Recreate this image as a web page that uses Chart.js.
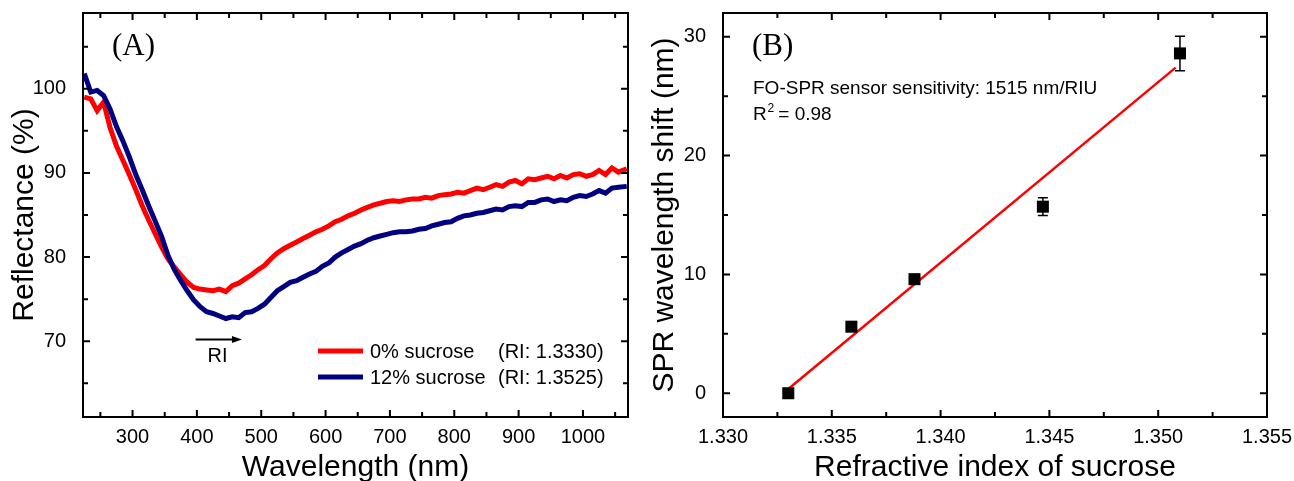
<!DOCTYPE html>
<html>
<head>
<meta charset="utf-8">
<script src="https://cdn.jsdelivr.net/npm/chart.js@4.4.1/dist/chart.umd.min.js"></script>
<style>
  html, body { margin: 0; padding: 0; background: #fff; }
  #wrap { position: relative; width: 1294px; height: 481px; }
  #chartA { position: absolute; left: 0; top: 0; }
  #chartB { position: absolute; left: 640px; top: 0; }
</style>
</head>
<body>
<div id="wrap">
  <canvas id="chartA" width="640" height="481"></canvas>
  <canvas id="chartB" width="654" height="481"></canvas>
</div>
<script>
// panel A: reflectance spectra
const wavelength = [225, 235, 245, 255, 265, 275, 285, 295, 305, 315,
  325, 335, 345, 355, 365, 375, 385, 395, 405, 415,
  425, 435, 445, 455, 465, 475, 485, 495, 505, 515,
  525, 535, 545, 555, 565, 575, 585, 595, 605, 615,
  625, 635, 645, 655, 665, 675, 685, 695, 705, 715,
  725, 735, 745, 755, 765, 775, 785, 795, 805, 815,
  825, 835, 845, 855, 865, 875, 885, 895, 905, 915,
  925, 935, 945, 955, 965, 975, 985, 995, 1005, 1015,
  1025, 1035, 1045, 1055, 1068];
const refl0 = [99.0, 98.8, 97.4, 98.4, 95.4, 93.2, 91.5, 89.8, 88.0, 86.1,
  84.4, 82.8, 81.2, 79.8, 78.8, 77.9, 77.0, 76.4, 76.2, 76.1,
  76.0, 76.2, 75.9, 76.6, 76.9, 77.4, 77.9, 78.5, 79.0, 79.8,
  80.5, 81.0, 81.4, 81.8, 82.2, 82.6, 83.0, 83.3, 83.7, 84.2,
  84.5, 84.9, 85.2, 85.6, 85.9, 86.2, 86.4, 86.6, 86.7, 86.6,
  86.8, 86.9, 86.9, 87.1, 87.0, 87.3, 87.4, 87.5, 87.7, 87.6,
  87.9, 88.2, 88.0, 88.3, 88.6, 88.4, 88.9, 89.1, 88.7, 89.3,
  89.2, 89.4, 89.6, 89.3, 89.7, 89.4, 89.8, 89.9, 89.6, 89.8,
  90.3, 89.8, 90.6, 90.1, 90.5];
const refl12 = [101.8, 99.6, 99.8, 99.2, 97.6, 95.5, 93.8, 91.9, 89.8, 88.0,
  86.1, 84.3, 82.5, 80.2, 78.5, 77.2, 76.0, 74.9, 74.1, 73.5,
  73.3, 73.0, 72.7, 72.9, 72.8, 73.4, 73.5, 73.9, 74.4, 75.2,
  76.0, 76.5, 77.0, 77.2, 77.6, 78.0, 78.3, 78.9, 79.3, 80.0,
  80.5, 80.9, 81.3, 81.6, 82.0, 82.3, 82.5, 82.7, 82.9, 83.0,
  83.0, 83.1, 83.3, 83.4, 83.7, 83.9, 84.1, 84.2, 84.6, 84.9,
  85.0, 85.2, 85.3, 85.5, 85.7, 85.6, 86.0, 86.1, 86.0, 86.5,
  86.5, 86.8, 86.9, 86.6, 86.8, 86.7, 87.1, 87.3, 87.2, 87.5,
  87.9, 87.6, 88.2, 88.3, 88.4];
const seriesNames = ['0% sucrose', '12% sucrose'];
const seriesRI = ['(RI: 1.3330)', '(RI: 1.3525)'];
const seriesColors = ['#ff0000', '#000080'];
const wlMajor = [300, 400, 500, 600, 700, 800, 900, 1000];
const wlMinor = [250, 350, 450, 550, 650, 750, 850, 950, 1050];
const reflMajor = [70, 80, 90, 100];
const reflMinor = [65, 75, 85, 95, 105];

// panel B: shift vs refractive index
const riX = [1.3330, 1.3359, 1.3388, 1.3447, 1.3510];
const shiftY = [0, 5.6, 9.6, 15.7, 28.6];
const shiftErr = [0.15, 0.25, 0.35, 0.75, 1.45];
const fitX = [1.3330, 1.3508];
const fitY = [0.35, 27.4];
const riMajor = [1.330, 1.335, 1.340, 1.345, 1.350, 1.355];
const riMinor = [1.3325, 1.3375, 1.3425, 1.3475, 1.3525];
const shiftMajor = [0, 10, 20, 30];
const shiftMinor = [5, 15, 25];

const sans = "'Liberation Sans', Arial, sans-serif";
const serif = "'Liberation Serif', 'Times New Roman', serif";
Chart.defaults.font.family = sans;
Chart.defaults.color = '#000';

// box frame plus inward ticks on all four sides
const frameTicks = {
    id: 'frameTicks',
    afterDatasetsDraw(chart, args, opts) {
        const {ctx, chartArea: a, scales: {x, y}} = chart;
        ctx.save();
        ctx.strokeStyle = '#000';
        ctx.lineWidth = 2;
        ctx.strokeRect(a.left, a.top, a.right - a.left, a.bottom - a.top);
        const xTick = (v, len) => {
            const px = x.getPixelForValue(v);
            ctx.moveTo(px, a.bottom); ctx.lineTo(px, a.bottom - len);
            ctx.moveTo(px, a.top); ctx.lineTo(px, a.top + len);
        };
        const yTick = (v, len) => {
            const py = y.getPixelForValue(v);
            ctx.moveTo(a.left, py); ctx.lineTo(a.left + len, py);
            ctx.moveTo(a.right, py); ctx.lineTo(a.right - len, py);
        };
        ctx.beginPath();
        opts.xMajor.forEach(v => xTick(v, 7));
        opts.xMinor.forEach(v => xTick(v, 5));
        opts.yMajor.forEach(v => yTick(v, 7));
        opts.yMinor.forEach(v => yTick(v, 5));
        ctx.stroke();
        ctx.restore();
    }
};

const panelLabel = (ctx, text, x) => {
    ctx.font = '31px ' + serif;
    ctx.fillStyle = '#000';
    ctx.textAlign = 'left';
    ctx.textBaseline = 'alphabetic';
    ctx.fillText(text, x, 55);
};

const annotA = {
    id: 'annotA',
    afterDraw(chart) {
        const {ctx, scales: {x, y}} = chart;
        ctx.save();
        panelLabel(ctx, '(A)', 112);

        // RI arrow
        const ay = y.getPixelForValue(70.2);
        const ax0 = x.getPixelForValue(398), ax1 = x.getPixelForValue(470);
        ctx.strokeStyle = '#000';
        ctx.lineWidth = 2;
        ctx.beginPath();
        ctx.moveTo(ax0, ay); ctx.lineTo(ax1 - 8, ay);
        ctx.stroke();
        ctx.beginPath();
        ctx.moveTo(ax1, ay); ctx.lineTo(ax1 - 10, ay - 3.5); ctx.lineTo(ax1 - 10, ay + 3.5);
        ctx.closePath();
        ctx.fillStyle = '#000';
        ctx.fill();
        ctx.font = '20px ' + sans;
        ctx.textAlign = 'center';
        ctx.textBaseline = 'middle';
        ctx.fillText('RI', 217.5, 356);

        // legend
        ctx.textAlign = 'left';
        seriesNames.forEach((name, i) => {
            const ly = 351 + i * 26;
            ctx.strokeStyle = seriesColors[i];
            ctx.lineWidth = 5;
            ctx.beginPath();
            ctx.moveTo(318, ly); ctx.lineTo(363, ly);
            ctx.stroke();
            ctx.fillStyle = '#000';
            ctx.fillText(name, 370, ly + 1);
            ctx.fillText(seriesRI[i], 498, ly + 1);
        });
        ctx.restore();
    }
};

const errorBars = {
    id: 'errorBars',
    beforeDatasetsDraw(chart) {
        const {ctx, scales: {x, y}} = chart;
        ctx.save();
        ctx.strokeStyle = '#000';
        ctx.lineWidth = 1.5;
        ctx.beginPath();
        riX.forEach((r, i) => {
            const px = x.getPixelForValue(r);
            const top = y.getPixelForValue(shiftY[i] + shiftErr[i]);
            const bot = y.getPixelForValue(shiftY[i] - shiftErr[i]);
            ctx.moveTo(px, top); ctx.lineTo(px, bot);
            ctx.moveTo(px - 5, top); ctx.lineTo(px + 5, top);
            ctx.moveTo(px - 5, bot); ctx.lineTo(px + 5, bot);
        });
        ctx.stroke();
        ctx.restore();
    }
};

const annotB = {
    id: 'annotB',
    afterDraw(chart) {
        const {ctx} = chart;
        ctx.save();
        panelLabel(ctx, '(B)', 112);
        ctx.fillStyle = '#000';
        ctx.textAlign = 'left';
        ctx.textBaseline = 'alphabetic';
        ctx.font = '19px ' + sans;
        ctx.fillText('FO-SPR sensor sensitivity: 1515 nm/RIU', 113, 94);
        ctx.fillText('R', 113, 120);
        ctx.font = '12px ' + sans;
        ctx.fillText('2', 127.5, 112);
        ctx.font = '19px ' + sans;
        ctx.fillText(' = 0.98', 133, 120);
        ctx.restore();
    }
};

const tickFont = {family: sans, size: 20};
const titleFont = {family: sans, size: 30, lineHeight: 1};

function axes(xOpt, yOpt) {
    return {
        x: Object.assign({
            type: 'linear',
            grid: {display: false},
            border: {display: false},
            afterFit: s => { s.height = 64; s.paddingLeft = 0; s.paddingRight = 0; },
            ticks: {padding: 0, font: tickFont, color: '#000', maxRotation: 0, autoSkip: false,
                callback: v => String(v)}
        }, xOpt),
        y: Object.assign({
            type: 'linear',
            grid: {display: false},
            border: {display: false},
            afterFit: s => { s.width = 83; s.paddingTop = 0; s.paddingBottom = 0; },
            ticks: {padding: 9, font: tickFont, color: '#000', autoSkip: false,
                callback: v => String(v)}
        }, yOpt)
    };
}

new Chart(document.getElementById('chartA'), {
    type: 'line',
    data: {
        datasets: [refl0, refl12].map((vals, i) => ({
            label: seriesNames[i],
            data: wavelength.map((w, j) => ({x: w, y: vals[j]})),
            borderColor: seriesColors[i],
            borderWidth: 5,
            pointRadius: 0,
            tension: 0
        })).reverse()
    },
    options: {
        responsive: false,
        animation: false,
        events: [],
        layout: {padding: {top: 13, right: 12, left: 0, bottom: 0}},
        plugins: {
            legend: {display: false},
            tooltip: {enabled: false},
            frameTicks: {xMajor: wlMajor, xMinor: wlMinor, yMajor: reflMajor, yMinor: reflMinor}
        },
        scales: axes({
            min: 223, max: 1070,
            afterBuildTicks: s => { s.ticks = wlMajor.map(v => ({value: v})); },
            title: {display: true, text: 'Wavelength (nm)', font: titleFont, color: '#000', padding: {top: 0, bottom: -2}}
        }, {
            min: 61, max: 109,
            afterBuildTicks: s => { s.ticks = reflMajor.map(v => ({value: v})); },
            title: {display: true, text: 'Reflectance (%)', font: titleFont, color: '#000', padding: {top: 10, bottom: 0}}
        })
    },
    plugins: [frameTicks, annotA]
});

new Chart(document.getElementById('chartB'), {
    type: 'scatter',
    data: {
        datasets: [{
            label: 'shift',
            data: riX.map((r, i) => ({x: r, y: shiftY[i]})),
            pointStyle: 'rect',
            pointRadius: 8.5,
            backgroundColor: '#000',
            borderWidth: 0,
            order: 0
        }, {
            label: 'fit',
            data: fitX.map((r, i) => ({x: r, y: fitY[i]})),
            showLine: true,
            borderColor: '#ff0000',
            borderWidth: 2.5,
            pointRadius: 0,
            order: 1
        }]
    },
    options: {
        responsive: false,
        animation: false,
        events: [],
        layout: {padding: {top: 13, right: 27, left: 0, bottom: 0}},
        plugins: {
            legend: {display: false},
            tooltip: {enabled: false},
            frameTicks: {xMajor: riMajor, xMinor: riMinor, yMajor: shiftMajor, yMinor: shiftMinor}
        },
        scales: axes({
            min: 1.330, max: 1.355,
            afterBuildTicks: s => { s.ticks = riMajor.map(v => ({value: v})); },
            ticks: {padding: 0, font: tickFont, color: '#000', maxRotation: 0, autoSkip: false,
                callback: v => v.toFixed(3)},
            title: {display: true, text: 'Refractive index of sucrose', font: titleFont, color: '#000', padding: {top: 0, bottom: -2}}
        }, {
            min: -2, max: 32,
            afterBuildTicks: s => { s.ticks = shiftMajor.map(v => ({value: v})); },
            title: {display: true, text: 'SPR wavelength shift (nm)', font: titleFont, color: '#000', padding: {top: 10, bottom: 0}}
        })
    },
    plugins: [errorBars, frameTicks, annotB]
});
</script>
</body>
</html>
